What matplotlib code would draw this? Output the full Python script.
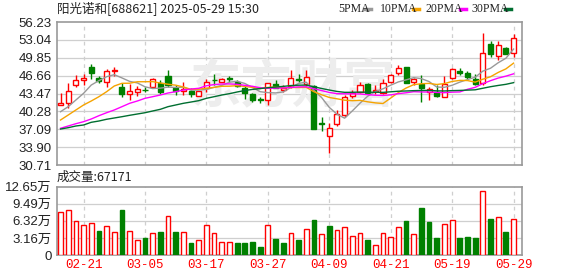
import numpy as np
import pandas as pd
import matplotlib
matplotlib.use("Agg")
import matplotlib.pyplot as plt

plt.rcParams['font.family'] = ['Liberation Sans', 'Noto Sans CJK SC', 'DejaVu Sans']

# ---------------- data ----------------
title = "阳光诺和[688621] 2025-05-29 15:30"
dates = ["02-18", "02-19", "02-20", "02-21", "02-24", "02-25", "02-26", "02-27", "02-28",
         "03-03", "03-04", "03-05", "03-06", "03-07", "03-10", "03-11", "03-12", "03-13",
         "03-14", "03-17", "03-18", "03-19", "03-20", "03-21", "03-24", "03-25", "03-26",
         "03-27", "03-28", "03-31", "04-01", "04-02", "04-03", "04-07", "04-08", "04-09",
         "04-10", "04-11", "04-14", "04-15", "04-16", "04-17", "04-18", "04-21", "04-22",
         "04-23", "04-24", "04-25", "04-28", "05-15", "05-16", "05-19", "05-20", "05-21",
         "05-22", "05-23", "05-26", "05-27", "05-28", "05-29"]
tick_dates = ["02-21", "03-05", "03-17", "03-27", "04-09", "04-21", "05-19", "05-29"]

opens = [41.5, 41.7, 44.9, 45.9, 48.2, 46.3, 45.6, 47.45, 44.6, 43.4,
         43.7, 44.15, 44.6, 45.3, 46.6, 44.4, 43.9, 43.9, 43.1, 44.4,
         45.95, 45.5, 46.18, 45.6, 44.5, 43.4, 42.4, 42.3, 45.1, 44.1,
         44.8, 46.1, 45.2, 44.8, 38.2, 35.9, 38.0, 39.7, 43.0, 43.75,
         45.1, 44.0, 43.6, 45.5, 47.1, 48.15, 45.5, 45.1, 43.8, 43.7,
         42.9, 46.2, 47.4, 47.2, 46.05, 45.3, 52.35, 50.2, 51.55, 50.75]
closes = [41.7, 44.0, 45.8, 46.3, 47.1, 45.65, 47.5, 47.6, 43.4, 44.0,
          44.3, 44.05, 46.0, 43.8, 44.9, 44.0, 44.3, 43.3, 43.9, 45.5,
          45.85, 46.05, 46.1, 44.8, 43.5, 42.3, 42.25, 45.3, 44.5, 44.4,
          46.2, 45.95, 46.4, 37.12, 38.1, 37.4, 39.9, 42.8, 43.6, 45.0,
          43.6, 44.05, 45.3, 46.8, 47.95, 45.4, 46.05, 44.4, 44.2, 43.05,
          45.2, 47.85, 47.2, 46.5, 45.1, 50.65, 50.45, 52.1, 50.5, 53.3]
highs = [43.6, 45.4, 46.7, 46.95, 48.7, 46.65, 47.8, 48.25, 45.3, 45.1,
         44.8, 44.58, 46.3, 45.9, 47.7, 44.9, 45.5, 44.4, 44.0, 46.0,
         46.95, 46.25, 46.6, 45.9, 45.0, 43.6, 42.8, 45.35, 45.9, 45.0,
         47.7, 46.95, 47.7, 45.0, 39.2, 38.15, 40.5, 43.2, 44.1, 45.5,
         45.3, 45.0, 46.05, 46.95, 48.5, 48.25, 46.3, 46.8, 44.6, 45.0,
         46.6, 47.95, 48.05, 47.55, 46.95, 54.2, 52.9, 52.9, 51.8, 54.1]
lows = [41.4, 40.8, 44.7, 44.9, 46.1, 45.3, 44.7, 46.6, 42.9, 42.3,
        43.0, 43.79, 44.4, 43.4, 44.6, 43.2, 43.2, 42.9, 43.0, 43.75,
        45.0, 45.45, 45.5, 44.6, 42.5, 42.0, 41.8, 41.4, 44.4, 43.8,
        44.5, 45.6, 44.85, 37.1, 36.8, 32.9, 37.7, 39.3, 42.6, 43.5,
        43.5, 43.4, 43.4, 45.3, 46.8, 45.3, 45.0, 42.0, 42.3, 42.85,
        42.8, 46.0, 46.8, 46.0, 45.0, 45.0, 49.9, 49.45, 50.45, 50.0]
volumes = [8.0, 8.33, 6.27, 5.56, 5.9, 4.47, 5.37, 4.23, 8.33, 4.44,
           2.78, 3.18, 4.04, 4.3, 7.2, 4.3, 4.32, 2.28, 2.78, 5.56,
           4.07, 2.41, 2.41, 2.28, 2.28, 2.47, 1.54, 5.56, 2.96, 2.28,
           4.0, 2.78, 4.75, 6.48, 3.83, 5.37, 4.57, 5.13, 3.46, 4.0,
           2.78, 1.79, 4.0, 3.27, 5.13, 6.3, 3.83, 8.7, 6.11, 3.15,
           5.68, 6.42, 3.15, 3.33, 3.15, 11.8, 6.67, 6.98, 4.32, 6.7171]  # 万手

# moving-average values before a full window is available
ma5_head = [40.22, 41.12, 42.31, 43.5]
ma10_head = [38.74, 39.63, 40.53, 41.42, 42.13, 42.9, 43.79, 44.81, 45.29]
ma20_head = [37.26, 37.67, 38.08, 38.44, 38.92, 39.51, 40.04, 40.53, 41.12, 41.72,
             42.13, 42.61, 42.9, 43.2, 43.56, 43.79, 44.09, 44.27, 44.4]
ma30_head = [37.13, 37.37, 37.67, 37.85, 38.33, 38.56, 38.87, 39.1, 39.33, 39.58,
             39.81, 40.04, 40.35, 40.65, 41.12, 41.42, 41.72, 41.95, 42.19, 42.61,
             42.9, 43.2, 43.44, 43.74, 44.0, 44.2, 44.35, 44.5, 44.62]

price_ticks = [30.71, 33.90, 37.09, 40.28, 43.47, 46.66, 49.85, 53.04, 56.23]
vol_ticks = [0, 3.16, 6.32, 9.49, 12.65]
vol_tick_labels = ["0", "3.16万", "6.32万", "9.49万", "12.65万"]
ma_names = ["5PMA", "10PMA", "20PMA", "30PMA"]

# ---------------- styles ----------------
RED = "#ff0000"
GREEN = "#008000"
GRID = "#cfcfcf"
SPINE = "#999999"
ma_colors = ["#999999", "#f5a300", "#ff00ff", "#006e30"]

df = pd.DataFrame({"open": opens, "close": closes, "high": highs, "low": lows, "vol": volumes})
n = len(df)
xs = np.arange(n)


def ma_series(window, head):
    s = df["close"].rolling(window).mean().to_numpy()
    s[:len(head)] = head
    return s


mas = [ma_series(5, ma5_head), ma_series(10, ma10_head),
       ma_series(20, ma20_head), ma_series(30, ma30_head)]

W, H = 578, 276
fig = plt.figure(figsize=(W / 100, H / 100), dpi=100)
fig.patch.set_facecolor("white")

L, R = 57, 522
ax = fig.add_axes([L / W, 1 - 165 / H, (R - L) / W, (165 - 22) / H])
axv = fig.add_axes([L / W, 1 - 255 / H, (R - L) / W, (255 - 186.7) / H])

xlim = (-0.46, n + 0.1)
tick_idx = [dates.index(d) for d in tick_dates]

for a in (ax, axv):
    a.set_xlim(*xlim)
    for s in a.spines.values():
        s.set_color(SPINE)
        s.set_linewidth(1.2)
    a.tick_params(length=0)
    for t in tick_idx:
        a.axvline(t, color=GRID, lw=0.9, ls=(0, (3, 3)), zorder=0)
    a.set_facecolor("white")

# ---------- price panel ----------
ax.set_ylim(price_ticks[0], price_ticks[-1])
ax.set_yticks(price_ticks)
ax.set_yticklabels([f"{v:.2f}" for v in price_ticks], fontsize=9.5, color="#222222")
ax.tick_params(axis="y", pad=4)
ax.set_xticks([])
for v in price_ticks[1:-1]:
    ax.axhline(v, color=GRID, lw=0.9, zorder=0)

ax.text(0.505, 0.55, "东方财富", transform=ax.transAxes, fontsize=37,
        family=["Noto Sans CJK SC"], fontweight="bold", style="italic",
        color="#ededed", ha="center", va="center", zorder=0.5)

up = df["close"] >= df["open"]
colors = np.where(up, RED, GREEN)
ax.vlines(xs, df["low"], df["high"], colors=colors, lw=1.0, zorder=2)
body_h = (df["close"] - df["open"]).abs().clip(lower=0.06)
body_b = df[["open", "close"]].min(axis=1)
ax.bar(xs, body_h, bottom=body_b, width=0.66,
       color=np.where(up, "white", GREEN), edgecolor=colors, linewidth=1.0, zorder=3)

for m, c in zip(mas, ma_colors):
    ax.plot(xs, m, color=c, lw=1.0, zorder=4)

# title and legend
fig.text(57 / W, 1 - 8.5 / H, title, fontsize=9, color="#222222", va="center", ha="left",
         family=["Noto Sans CJK SC", "DejaVu Sans"])
leg_x = [338.5, 380, 425.5, 471]
for name, lx in zip(ma_names, leg_x):
    fig.text(lx / W, 1 - 9 / H, name, fontsize=8.5, color="#222222",
             va="center", ha="left", family=["Liberation Serif"])

dash_x = [364.5, 413, 459.5, 505]
for c, dx in zip(ma_colors, dash_x):
    fig.add_artist(plt.Line2D([dx / W, (dx + 6) / W], [1 - 8.5 / H, 1 - 8.5 / H],
                              color=c, lw=2.5, transform=fig.transFigure))

# ---------- volume panel ----------
axv.set_ylim(vol_ticks[0], vol_ticks[-1])
axv.set_yticks(vol_ticks)
axv.set_yticklabels(vol_tick_labels, fontsize=9.5, color="#222222")
axv.tick_params(axis="y", pad=4)
for v in vol_ticks[1:-1]:
    axv.axhline(v, color=GRID, lw=0.9, zorder=0)

prev_close = df["close"].shift(1).fillna(df["open"])
vup = df["close"] >= prev_close
vcol = np.where(vup, RED, GREEN)
axv.bar(xs, df["vol"], width=0.62, color=np.where(vup, "white", GREEN),
        edgecolor=vcol, linewidth=1.0, zorder=3)

axv.set_xticks(tick_idx)
axv.set_xticklabels(tick_dates, fontsize=9, color=RED, family=["Liberation Mono", "DejaVu Sans Mono"])
axv.tick_params(axis="x", pad=3)

fig.text(57 / W, 1 - 177 / H, f"成交量:{int(round(volumes[-1] * 10000))}", fontsize=9,
         color="#222222", va="center", ha="left", family=["Noto Sans CJK SC", "DejaVu Sans"])

fig.savefig("out.png", dpi=100, facecolor="white")
